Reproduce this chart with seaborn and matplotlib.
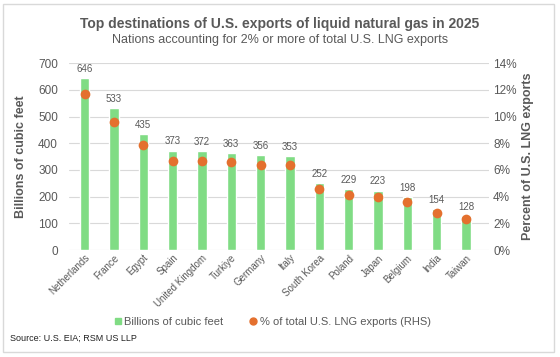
import numpy as np
import pandas as pd
import matplotlib
matplotlib.use("Agg")
import matplotlib.pyplot as plt
import seaborn as sns
from matplotlib.lines import Line2D
from matplotlib.patches import Rectangle

countries = ["Netherlands", "France", "Egypt", "Spain", "United Kingdom", "Turkiye",
             "Germany", "Italy", "South Korea", "Poland", "Japan", "Belgium", "India", "Taiwan"]
bcf = [646, 533, 435, 373, 372, 363, 356, 353, 252, 229, 223, 198, 154, 128]
pct = [11.7, 9.6, 7.9, 6.7, 6.7, 6.6, 6.4, 6.4, 4.6, 4.1, 4.0, 3.6, 2.8, 2.3]
left_ticks = [0, 100, 200, 300, 400, 500, 600, 700]
right_ticks = [0, 2, 4, 6, 8, 10, 12, 14]

title = "Top destinations of U.S. exports of liquid natural gas in 2025"
subtitle = "Nations accounting for 2% or more of total U.S. LNG exports"
source = "Source: U.S. EIA; RSM US LLP"

GREEN = "#80DC84"
ORANGE = "#E4702E"
GRAY = "#595959"
GRID = "#D9D9D9"

sns.set_theme(style="white")
plt.rcParams["font.family"] = ["Liberation Sans", "DejaVu Sans"]

df = pd.DataFrame({"country": countries, "bcf": bcf, "pct": pct})

fig = plt.figure(figsize=(5.6, 3.57), dpi=100)
ax = fig.add_axes([0.1232, 0.2997, 0.873 - 0.1232, 0.8227 - 0.2997])

sns.barplot(data=df, x="country", y="bcf", color=GREEN, width=0.32, ax=ax,
            saturation=1, order=countries)
ax.bar_label(ax.containers[0], fmt="%d", padding=3, fontsize=7, color=GRAY)

ax2 = ax.twinx()
sns.stripplot(data=df, x="country", y="pct", order=countries, jitter=False,
              color=ORANGE, size=7, linewidth=0, ax=ax2)

ax.set_ylim(0, 700)
ax.set_yticks(left_ticks)
ax2.set_ylim(0, 14)
ax2.set_yticks(right_ticks)
ax2.set_yticklabels([f"{t}%" for t in right_ticks])
ax.set_xlim(-0.53, 13.78)
ax2.set_xlim(-0.53, 13.78)

ax.yaxis.grid(True, color=GRID, linewidth=0.8)
ax.set_axisbelow(True)
for a in (ax, ax2):
    for s in a.spines.values():
        s.set_visible(False)
    a.tick_params(length=0, colors=GRAY)
ax.tick_params(axis="y", labelsize=8.5, pad=8)
ax2.tick_params(axis="y", labelsize=8.5, pad=3)
ax.tick_params(axis="x", labelsize=7, pad=2)
plt.setp(ax.get_xticklabels(), rotation=45, ha="right", rotation_mode="anchor")
ax2.set_xlabel("")
ax.set_xlabel("")
ax.set_ylabel("Billions of cubic feet", fontsize=9, fontweight="bold", color=GRAY, labelpad=8)
ax2.set_ylabel("Percent of U.S. LNG exports", fontsize=9, fontweight="bold", color=GRAY, labelpad=4)

fig.text(0.5, 0.933, title, ha="center", va="center", fontsize=10, fontweight="bold", color=GRAY)
fig.text(0.5, 0.888, subtitle, ha="center", va="center", fontsize=9, color=GRAY)
fig.text(0.018, 0.053, source, ha="left", va="center", fontsize=6.5, color="#222222")

handles = [Line2D([], [], marker="s", linestyle="none", color=GREEN, markersize=5),
           Line2D([], [], marker="o", linestyle="none", color=ORANGE, markersize=5)]
fig.legend(handles, ["Billions of cubic feet", "% of total U.S. LNG exports (RHS)"],
           loc="center", bbox_to_anchor=(0.485, 0.098), ncol=2, frameon=False,
           fontsize=8, labelcolor=GRAY, handletextpad=0.05, columnspacing=2.2,
           handlelength=1.0)

fig.patches.append(Rectangle((0.005, 0.014), 0.985, 0.975, transform=fig.transFigure,
                             fill=False, edgecolor=GRID, linewidth=1.0))

fig.savefig("out.png", dpi=100)
